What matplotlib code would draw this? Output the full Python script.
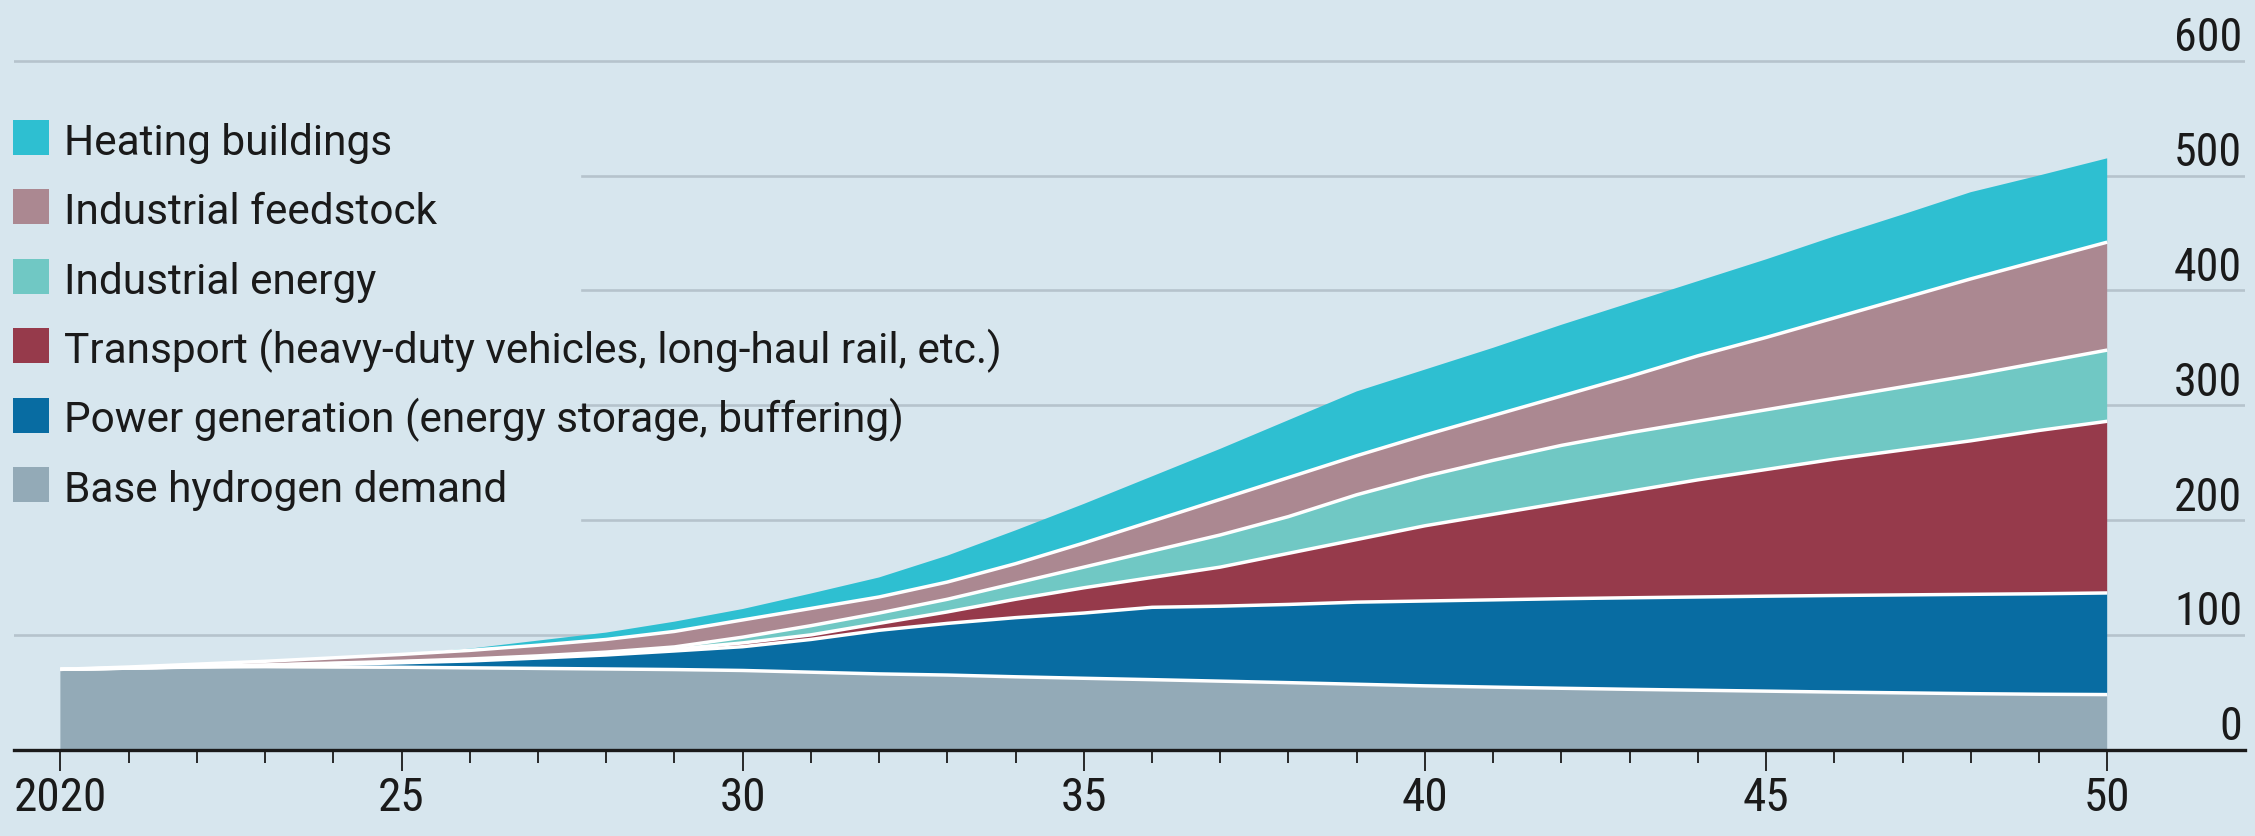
"""Hydrogen demand by end use, stacked area chart."""
import numpy as np
import matplotlib.pyplot as plt
import matplotlib.transforms as mtransforms
from matplotlib import font_manager
from matplotlib.patches import Rectangle

years = list(range(2020, 2051))

# values per layer (bottom layer first)
base = [70, 71, 72, 72.3, 72, 71.8, 71.3, 70.8, 70.3, 69.8, 69, 67.5, 66, 65, 63.5, 62.2,
        61, 59.7, 58.4, 57, 55.6, 54.5, 53.5, 52.6, 51.8, 51, 50.2, 49.5, 48.8, 48.3, 48]
power = [0, 0, 0.2, 0.7, 2.3, 3.9, 6.0, 9.0, 12.2, 16.2, 20.7, 28.5, 38, 45, 51.5, 56.8,
         63, 65.3, 68.1, 71.5, 73.9, 76, 78, 79.7, 81.2, 82.7, 84.1, 85.3, 86.5, 87.5, 88.5]
transport = [0, 0.1, 0.1, 0.5, 0.7, 0.8, 1.0, 1.0, 1.3, 1.5, 3.3, 4, 6, 10, 16, 22,
             26, 34, 44.5, 54.5, 65.5, 74.5, 83.5, 92.7, 102, 110.3, 118.7, 126.2, 133.7, 142.2, 149.5]
energy = [0, 0.1, 0.2, 0.3, 0.4, 0.5, 0.7, 0.9, 1.2, 2.0, 5, 8, 9, 11, 14, 18,
          23, 28, 32, 39, 43, 47, 50, 51, 51, 52, 53, 55, 57, 59, 62]
feedstock = [0, 0.8, 2.0, 3.2, 4.6, 6.0, 7.5, 9.3, 11, 13.5, 15, 15, 14, 15, 17, 21,
             26, 31, 34, 34, 36, 39, 43, 49, 57, 63, 70, 77, 84, 89, 94]
heating = [0, 0, 0, 0, 0, 0.5, 1.5, 4, 6, 8.5, 9.5, 13, 17, 23, 29, 34,
           39, 44, 50, 56, 57, 59, 62, 64, 65, 68, 71, 73, 75.5, 74, 73]

series_labels = [
    "Base hydrogen demand",
    "Power generation (energy storage, buffering)",
    "Transport (heavy-duty vehicles, long-haul rail, etc.)",
    "Industrial energy",
    "Industrial feedstock",
    "Heating buildings",
]
series_colors = ["#93aab7", "#086ca2", "#963a4b", "#70c8c4", "#ab8891", "#2ebfd1"]

x_ticks = [2020, 2025, 2030, 2035, 2040, 2045, 2050]
x_ticklabels = ["2020", "25", "30", "35", "40", "45", "50"]
y_ticks = [0, 100, 200, 300, 400, 500, 600]

BG = "#d7e6ee"
GRID = "#b6c3cc"
INK = "#1a1a1a"
W, H = 2255, 836

names = {f.name for f in font_manager.fontManager.ttflist}
num_font, num_size = "DejaVu Sans", 26
for cand, s in [("Roboto Condensed", 34), ("Liberation Sans Narrow", 33), ("Lato", 30)]:
    if cand in names:
        num_font, num_size = cand, s
        break
leg_font = "Roboto" if "Roboto" in names else "DejaVu Sans"
leg_size = 30.5 if leg_font == "Roboto" else 26
plt.rcParams["font.family"] = num_font

fig = plt.figure(figsize=(W / 100, H / 100), dpi=100, facecolor=BG)
ax = fig.add_axes([14 / W, (H - 749.7) / H, 2231 / W, 746.4 / H])
ax.set_facecolor(BG)
for sp in ax.spines.values():
    sp.set_visible(False)
ax.set_xlim(2019.32, 2052.02)
ax.set_ylim(0, 650)

# gridlines (shortened where the legend sits)
for v in y_ticks[1:]:
    xmin = 0 if v in (100, 600) else 0.2546
    ax.axhline(v, xmin=xmin, xmax=1, color=GRID, lw=1.9, zorder=0)

layers = [base, power, transport, energy, feedstock, heating]
ax.stackplot(years, *layers, colors=series_colors, lw=0, zorder=1)
cum = np.cumsum(np.array(layers[:-1]), axis=0)
for row in cum:
    ax.plot(years, row, color="white", lw=2.5, zorder=2, solid_capstyle="butt",
            solid_joinstyle="round")

ax.axhline(0, color=INK, lw=2.4, zorder=3, clip_on=False)

ax.set_xticks(x_ticks)
ax.set_xticklabels(x_ticklabels)
ax.set_xticks(years, minor=True)
ax.tick_params(axis="x", which="major", length=15, width=1.3, color=INK, pad=4,
               labelsize=num_size, labelcolor=INK)
ax.tick_params(axis="x", which="minor", length=9.5, width=1.3, color=INK)
ax.set_yticks([])

lab_tf = mtransforms.blended_transform_factory(ax.transAxes, ax.transData)
lab_tf = lab_tf + mtransforms.ScaledTranslation(-3 / 100, 9.5 / 100, fig.dpi_scale_trans)
for v in y_ticks:
    ax.text(1.0, v, str(v), transform=lab_tf, ha="right", va="baseline",
            fontsize=num_size - 1, color=INK)

# legend, top to bottom
for i, idx in enumerate(range(5, -1, -1)):
    baseline = 155 + 69.4 * i
    fig.add_artist(Rectangle((13.4 / W, 1 - baseline / H), 35.6 / W, 35 / H,
                             transform=fig.transFigure, facecolor=series_colors[idx],
                             edgecolor="none"))
    fig.text(63.6 / W, 1 - baseline / H, series_labels[idx], ha="left", va="baseline",
             fontsize=leg_size, color=INK, family=leg_font)

fig.savefig("out.png", dpi=100, facecolor=BG)
